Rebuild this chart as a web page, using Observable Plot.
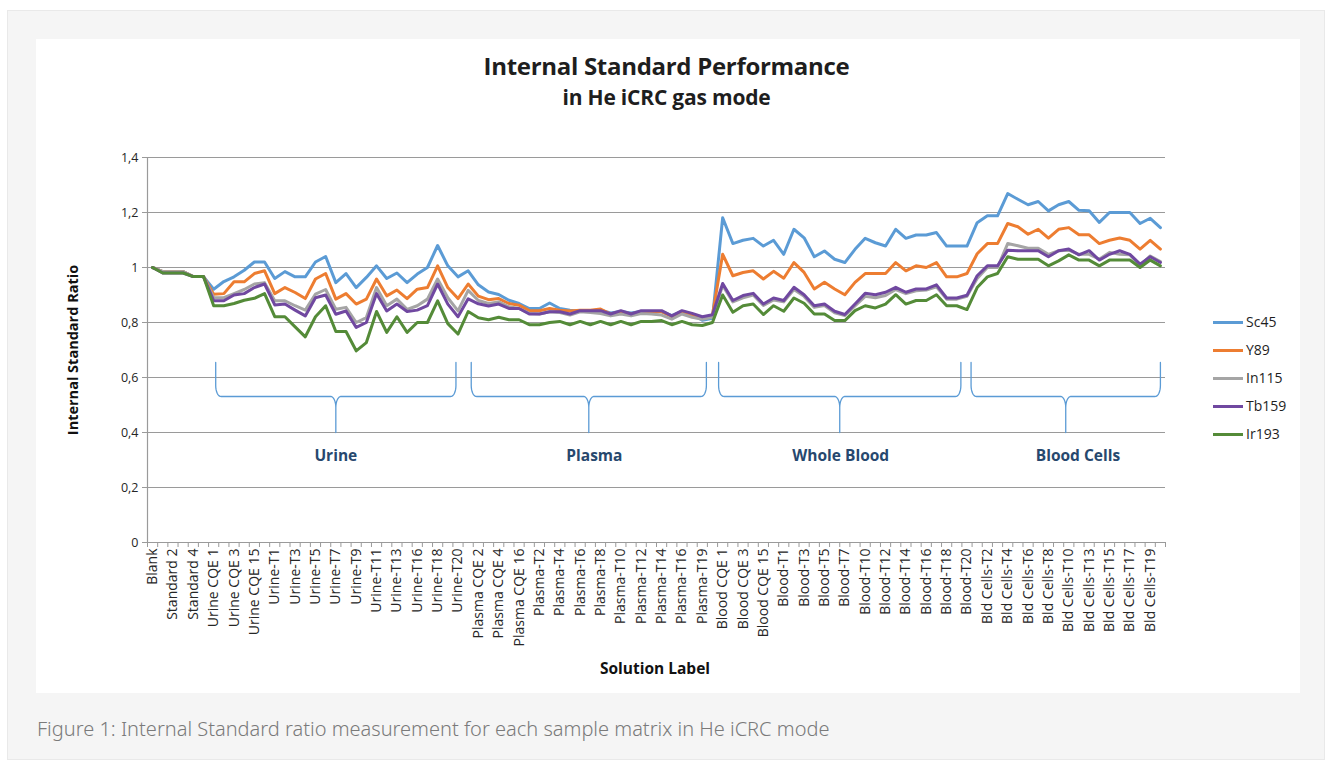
<!DOCTYPE html>
<html>
<head>
<meta charset="utf-8">
<script src="https://cdn.jsdelivr.net/npm/d3@7"></script>
<script src="https://cdn.jsdelivr.net/npm/@observablehq/plot@0.6"></script>
<style>
  html, body { margin: 0; padding: 0; background: #ffffff; }
  body { width: 1333px; height: 767px; position: relative; overflow: hidden; font-family: "Open Sans", sans-serif; }
  #panel { position: absolute; left: 7px; top: 10px; width: 1316px; height: 748px; background: #f5f5f5; border: 1px solid #e9e9e9; }
  #white { position: absolute; left: 36px; top: 39px; width: 1264px; height: 654px; background: #ffffff; }
  .abs { position: absolute; white-space: nowrap; }
  #title { left: 0; width: 1333px; top: 65px; transform: translate(0, -50%); text-align: center; font-size: 24px; font-weight: 700; color: #1e1e1e; letter-spacing: -0.3px; }
  #subtitle { left: 0; width: 1333px; top: 97px; transform: translate(0, -50%); text-align: center; font-size: 21px; font-weight: 700; color: #1e1e1e; letter-spacing: -0.2px; }
  #chart { position: absolute; left: 36px; top: 120px; }
  #ylabel { left: 72px; top: 350px; transform: translate(-50%, -50%) rotate(-90deg); font-size: 14.5px; font-weight: 700; color: #111; }
  #xlabel { left: 655px; top: 668px; transform: translate(-50%, -50%); font-size: 15.5px; font-weight: 700; color: #111; }
  #legend .item { position: absolute; left: 1213px; height: 20px; }
  #legend .sw { position: absolute; left: 0; top: 9px; width: 30px; height: 3px; }
  #legend .lab { position: absolute; left: 33px; top: 0; font-size: 14px; color: #1e1e1e; line-height: 20px; }
  #caption { left: 37px; top: 728px; transform: translate(0, -50%); font-size: 20px; color: #7a7a7a; font-family: "Noto Sans", sans-serif; font-weight: 300; }
  #chart svg text { fill: #262626; }
</style>
</head>
<body>
<div id="panel"></div>
<div id="white"></div>
<div id="title" class="abs">Internal Standard Performance</div>
<div id="subtitle" class="abs">in He iCRC gas mode</div>
<div id="chart"></div>
<div id="ylabel" class="abs">Internal Standard Ratio</div>
<div id="xlabel" class="abs">Solution Label</div>
<div id="legend"></div>
<div id="caption" class="abs">Figure 1: Internal Standard ratio measurement for each sample matrix in He iCRC mode</div>
<script>
// ---------- data ----------
const labels = [
  "Blank","Standard 1","Standard 2","Standard 3","Standard 4","Standard 5",
  "Urine CQE 1","Urine CQE 2","Urine CQE 3","Urine CQE 4","Urine CQE 15","Urine CQE 16",
  "Urine-T1","Urine-T2","Urine-T3","Urine-T4","Urine-T5","Urine-T6","Urine-T7","Urine-T8","Urine-T9","Urine-T10",
  "Urine-T11","Urine-T12","Urine-T13","Urine-T15","Urine-T16","Urine-T17","Urine-T18","Urine-T19","Urine-T20",
  "Plasma CQE 1","Plasma CQE 2","Plasma CQE 3","Plasma CQE 4","Plasma CQE 15","Plasma CQE 16",
  "Plasma-T1","Plasma-T2","Plasma-T3","Plasma-T4","Plasma-T5","Plasma-T6","Plasma-T7","Plasma-T8","Plasma-T9","Plasma-T10",
  "Plasma-T11","Plasma-T12","Plasma-T13","Plasma-T14","Plasma-T15","Plasma-T16","Plasma-T18","Plasma-T19","Plasma-T20",
  "Blood CQE 1","Blood CQE 2","Blood CQE 3","Blood CQE 4","Blood CQE 15","Blood CQE 16",
  "Blood-T1","Blood-T2","Blood-T3","Blood-T4","Blood-T5","Blood-T6","Blood-T7","Blood-T9","Blood-T10",
  "Blood-T11","Blood-T12","Blood-T13","Blood-T14","Blood-T15","Blood-T16","Blood-T17","Blood-T18","Blood-T19","Blood-T20",
  "Bld Cells-T1","Bld Cells-T2","Bld Cells-T3","Bld Cells-T4","Bld Cells-T5","Bld Cells-T6","Bld Cells-T7","Bld Cells-T8",
  "Bld Cells-T9","Bld Cells-T10","Bld Cells-T12","Bld Cells-T13","Bld Cells-T14","Bld Cells-T15","Bld Cells-T16",
  "Bld Cells-T17","Bld Cells-T18","Bld Cells-T19","Bld Cells-T20"
];

const sc45 = [1.0,0.985,0.985,0.985,0.967,0.967,
  0.921,0.949,0.966,0.99,1.02,1.02,0.96,0.985,0.966,0.966,1.02,1.04,0.945,0.978,0.927,0.964,1.006,0.96,0.98,0.945,0.976,1.0,1.08,1.006,0.966,
  0.988,0.937,0.911,0.902,0.881,0.869,0.851,0.851,0.871,0.851,0.845,0.84,0.84,0.845,0.835,0.84,0.835,0.84,0.84,0.84,0.825,0.84,0.83,0.808,0.815,
  1.181,1.087,1.099,1.106,1.078,1.099,1.048,1.139,1.108,1.039,1.06,1.03,1.018,1.066,1.106,1.09,1.078,1.139,1.106,1.118,1.118,1.127,1.078,1.078,1.078,
  1.163,1.188,1.188,1.269,1.248,1.228,1.24,1.206,1.228,1.24,1.208,1.206,1.164,1.2,1.2,1.2,1.16,1.179,1.145];

const y89 = [1.0,0.985,0.985,0.985,0.967,0.967,
  0.903,0.905,0.948,0.948,0.978,0.988,0.905,0.927,0.909,0.887,0.958,0.978,0.885,0.905,0.867,0.885,0.958,0.897,0.918,0.887,0.921,0.927,1.006,0.927,0.887,
  0.94,0.896,0.883,0.887,0.869,0.863,0.843,0.843,0.851,0.845,0.842,0.845,0.845,0.849,0.831,0.839,0.831,0.839,0.839,0.839,0.821,0.839,0.827,0.815,0.827,
  1.048,0.97,0.982,0.988,0.958,0.986,0.961,1.018,0.982,0.922,0.946,0.922,0.901,0.946,0.978,0.978,0.978,1.018,0.988,1.006,1.0,1.018,0.966,0.966,0.978,
  1.05,1.087,1.087,1.16,1.148,1.121,1.139,1.107,1.139,1.145,1.119,1.119,1.087,1.099,1.107,1.099,1.067,1.099,1.067];

const in115 = [1.0,0.985,0.985,0.985,0.967,0.967,
  0.89,0.89,0.905,0.92,0.94,0.945,0.879,0.879,0.861,0.845,0.903,0.92,0.848,0.855,0.8,0.818,0.927,0.861,0.885,0.848,0.861,0.885,0.958,0.89,0.842,
  0.917,0.88,0.869,0.875,0.857,0.851,0.833,0.831,0.839,0.836,0.827,0.839,0.836,0.833,0.824,0.831,0.824,0.833,0.831,0.827,0.812,0.831,0.819,0.812,0.819,
  0.935,0.875,0.89,0.9,0.862,0.882,0.875,0.92,0.895,0.855,0.862,0.835,0.825,0.86,0.895,0.89,0.898,0.92,0.905,0.915,0.918,0.93,0.885,0.885,0.895,
  0.96,1.0,1.0,1.087,1.079,1.07,1.07,1.048,1.061,1.063,1.048,1.048,1.03,1.055,1.048,1.046,1.006,1.042,1.022];

const tb159 = [1.0,0.98,0.98,0.98,0.967,0.967,
  0.879,0.879,0.9,0.905,0.927,0.94,0.864,0.867,0.845,0.824,0.89,0.9,0.83,0.842,0.782,0.8,0.905,0.842,0.867,0.84,0.845,0.861,0.94,0.867,0.821,
  0.886,0.868,0.86,0.867,0.851,0.851,0.831,0.831,0.839,0.839,0.831,0.843,0.843,0.843,0.831,0.843,0.831,0.843,0.843,0.843,0.824,0.843,0.833,0.821,0.828,
  0.942,0.88,0.898,0.906,0.867,0.889,0.88,0.928,0.901,0.861,0.867,0.841,0.829,0.867,0.906,0.901,0.91,0.928,0.91,0.922,0.922,0.937,0.889,0.889,0.899,
  0.97,1.006,1.006,1.063,1.061,1.061,1.061,1.039,1.061,1.067,1.046,1.061,1.027,1.048,1.061,1.048,1.012,1.039,1.018];

const ir193 = [1.0,0.98,0.98,0.98,0.967,0.967,
  0.861,0.861,0.869,0.881,0.888,0.905,0.821,0.821,0.784,0.748,0.821,0.861,0.767,0.767,0.697,0.727,0.84,0.764,0.821,0.764,0.8,0.8,0.879,0.796,0.758,
  0.84,0.817,0.81,0.819,0.81,0.81,0.792,0.792,0.8,0.804,0.792,0.804,0.792,0.804,0.792,0.804,0.792,0.804,0.804,0.807,0.792,0.804,0.792,0.789,0.8,
  0.9,0.837,0.861,0.867,0.829,0.861,0.841,0.889,0.87,0.831,0.831,0.807,0.807,0.843,0.861,0.853,0.867,0.901,0.867,0.88,0.88,0.901,0.861,0.861,0.847,
  0.927,0.966,0.978,1.039,1.03,1.03,1.03,1.006,1.024,1.046,1.027,1.027,1.006,1.027,1.027,1.027,1.0,1.027,1.006];

const seriesNames = ["Sc45","Y89","In115","Tb159","Ir193"];
const seriesValues = [sc45, y89, in115, tb159, ir193];
const seriesColors = ["#5b9bd5","#ed7d31","#a5a5a5","#7048a0","#548b38"];

const yTicks = [0,0.2,0.4,0.6,0.8,1.0,1.2,1.4];

// group annotations (brace spans and label centres in category index units)
const groupNames = ["Urine","Plasma","Whole Blood","Blood Cells"];
const groupStart = [6.2, 31.3, 55.6, 80.4];
const groupEnd = [29.8, 54.4, 79.4, 99.0];
const groupLabelX = [18.0, 43.4, 67.6, 90.9];
const braceTop = 0.655, braceMid = 0.531, braceTip = 0.40, groupLabelY = 0.313;

// ---------- build tables ----------
const rows = [];
seriesNames.forEach((s, k) => seriesValues[k].forEach((v, i) => rows.push({series: s, i, v})));

const braceRx = 0.5, braceRy = 0.04;
const braceRows = [];
groupNames.forEach((g, k) => {
  const x0 = groupStart[k], x1 = groupEnd[k], m = (x0 + x1) / 2;
  const pts = [];
  const N = 8;
  pts.push([x0, braceTop]);
  for (let j = 0; j <= N; j++) { const t = j / N * Math.PI / 2; pts.push([x0 + braceRx - braceRx * Math.cos(t), braceMid + braceRy - braceRy * Math.sin(t)]); }
  for (let j = 0; j <= N; j++) { const t = j / N * Math.PI / 2; pts.push([m - braceRx + braceRx * Math.sin(t), braceMid - braceRy + braceRy * Math.cos(t)]); }
  pts.push([m, braceTip]);
  for (let j = N; j >= 0; j--) { const t = j / N * Math.PI / 2; pts.push([m + braceRx - braceRx * Math.sin(t), braceMid - braceRy + braceRy * Math.cos(t)]); }
  for (let j = N; j >= 0; j--) { const t = j / N * Math.PI / 2; pts.push([x1 - braceRx + braceRx * Math.cos(t), braceMid + braceRy - braceRy * Math.sin(t)]); }
  pts.push([x1, braceTop]);
  pts.forEach(([x, y]) => braceRows.push({g, x, y}));
});
const groupLabelRows = groupNames.map((g, k) => ({g, x: groupLabelX[k], y: groupLabelY}));

const evenIdx = labels.map((d, i) => i).filter(i => i % 2 === 0);
const boundaries = d3.range(labels.length + 1).map(i => i - 0.5);
const fmt = d => (Math.round(d * 10) / 10).toString().replace(".", ",");

const chart = Plot.plot({
  width: 1264,
  height: 573,
  marginLeft: 111,
  marginRight: 135,
  marginTop: 37,
  marginBottom: 151,
  style: {fontFamily: "'Open Sans', sans-serif", background: "transparent", overflow: "visible"},
  x: {type: "linear", domain: [-0.5, labels.length - 0.5], axis: null},
  y: {domain: [0, 1.4], axis: null},
  color: {domain: seriesNames, range: seriesColors},
  marks: [
    Plot.gridY(yTicks, {stroke: "#9a9a9a", strokeOpacity: 1, strokeWidth: 1.2}),
    Plot.ruleX([-0.5], {y1: 0, y2: 1.4, stroke: "#9a9a9a", strokeWidth: 1.2}),
    Plot.axisY({ticks: yTicks, tickFormat: fmt, tickSize: 5, tickPadding: 4, stroke: "#9a9a9a", fontSize: 12.5, label: null}),
    Plot.axisX({ticks: boundaries, tickFormat: () => "", tickSize: 5, stroke: "#9a9a9a", label: null}),
    Plot.axisX({ticks: evenIdx, tickFormat: i => labels[i], tickSize: 0, tickPadding: 6, tickRotate: -90, fontSize: 14, label: null}),
    Plot.line(braceRows, {x: "x", y: "y", z: "g", stroke: "#5b9bd5", strokeWidth: 1.3, curve: "linear"}),
    Plot.text(groupLabelRows, {x: "x", y: "y", text: "g", fontSize: 15.5, fontWeight: "bold", fill: "#27486e"}),
    Plot.line(rows, {x: "i", y: "v", z: "series", stroke: "series", strokeWidth: 3, strokeLinejoin: "round", strokeLinecap: "round"})
  ]
});
document.getElementById("chart").appendChild(chart);
chart.querySelectorAll('g[aria-label="text"] text').forEach(t => t.style.fill = "#27486e");

// legend
const legend = document.getElementById("legend");
const legendTop = [312, 340, 368, 396, 424];
seriesNames.forEach((s, k) => {
  const it = document.createElement("div");
  it.className = "item";
  it.style.top = legendTop[k] + "px";
  it.innerHTML = `<div class="sw" style="background:${seriesColors[k]}"></div><div class="lab">${s}</div>`;
  legend.appendChild(it);
});
</script>
</body>
</html>
